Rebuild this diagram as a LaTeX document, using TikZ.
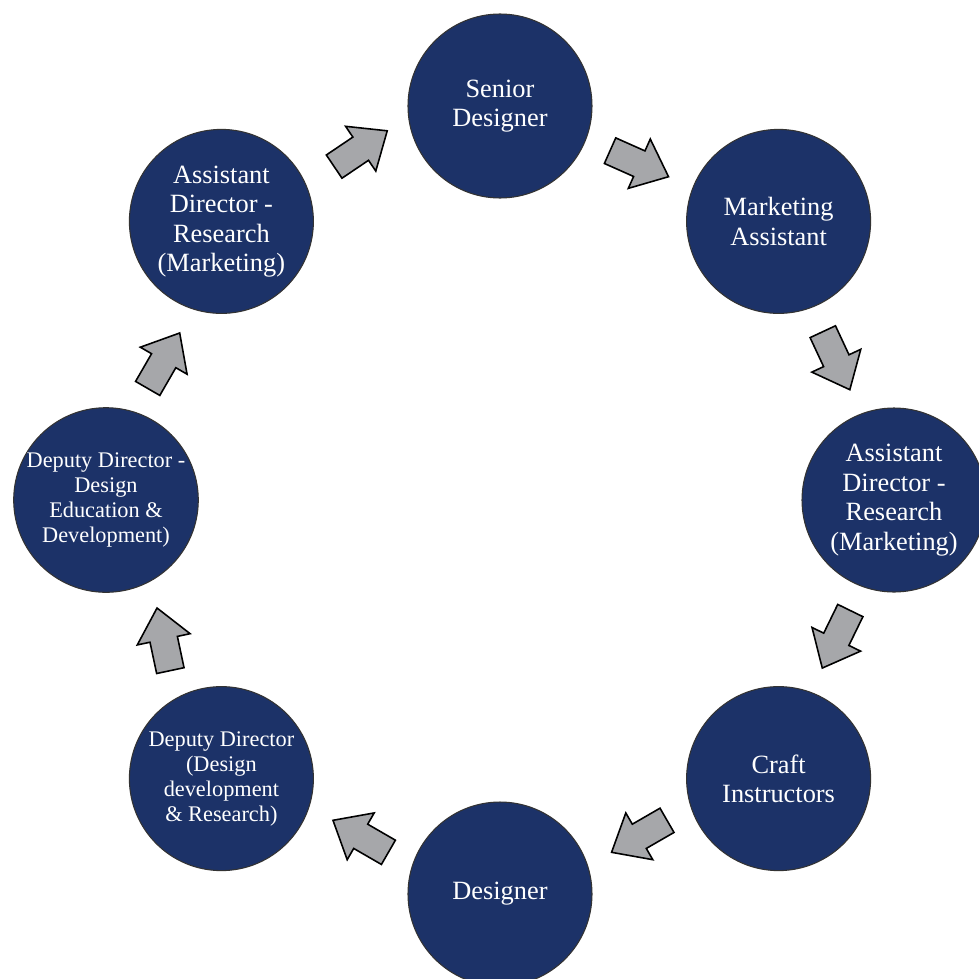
\documentclass[tikz,border=0pt]{standalone}
\usepackage{fontspec}
\setmainfont{Liberation Serif}
\definecolor{DeepNavy}{RGB}{28, 50, 104}
\definecolor{ArrowGray}{RGB}{166, 167, 170}
\usetikzlibrary{calc}

\begin{document}
\begin{tikzpicture}[
        stage/.style={circle, draw=black!80, line width=0.6pt, fill=DeepNavy, minimum size=3.68cm, inner sep=0pt, align=center, text=white, font=\fontsize{15}{16.8}\selectfont},
        smallstage/.style={stage, font=\fontsize{12.7}{14.2}\selectfont},
        flow/.pic={\draw [line width=0.9pt, fill=ArrowGray] (-0.64,-0.28) -- (0,-0.28) -- (0,-0.54) -- (0.64,0) -- (0,0.54) -- (0,0.28) -- (-0.64,0.28) -- cycle;}
    ]
        \useasboundingbox (-10,-9.56) rectangle (9.58,10);
        \node [stage] (senior) at (90:7.88) {Senior\\Designer};
        \node [stage] (mkt) at (45:7.88) {Marketing\\Assistant};
        \node [stage] (adr) at (0:7.88) {Assistant\\Director -\\Research\\(Marketing)};
        \node [stage] (craft) at (-45:7.88) {Craft\\Instructors};
        \node [stage] (designer) at (-90:7.88) {Designer};
        \node [smallstage] (ddr) at (-135:7.88) {Deputy Director\\(Design\\development\\\& Research)};
        \node [smallstage] (dde) at (180:7.88) {Deputy Director -\\Design\\Education \&\\Development)};
        \node [stage] (adl) at (135:7.88) {Assistant\\Director -\\Research\\(Marketing)};

        \pic [rotate=34] at ($(adl)!.5!(senior)+(0,0.3)$) {flow};
        \pic [rotate=-24] at ($(senior)!.5!(mkt)$) {flow};
        \pic [rotate=-65] at ($(mkt)!.5!(adr)$) {flow};
        \pic [rotate=-116] at ($(adr)!.5!(craft)$) {flow};
        \pic [rotate=210] at ($(craft)!.5!(designer)$) {flow};
        \pic [rotate=150] at ($(designer)!.5!(ddr)$) {flow};
        \pic [rotate=102] at ($(ddr)!.5!(dde)$) {flow};
        \pic [rotate=60] at ($(dde)!.5!(adl)$) {flow};
    \end{tikzpicture}
\end{document}
